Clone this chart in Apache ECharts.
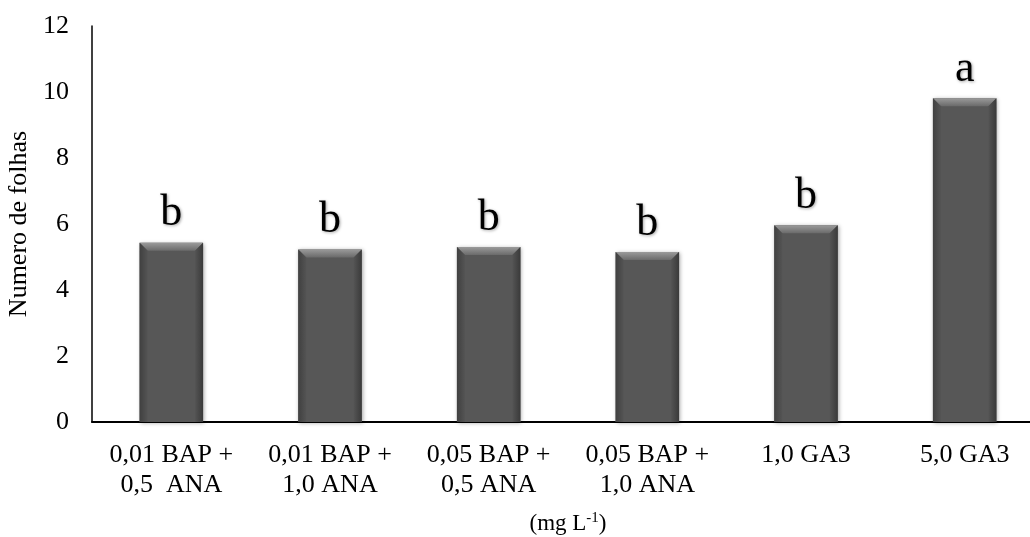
<!DOCTYPE html>
<html>
<head>
<meta charset="utf-8">
<script src="https://cdn.jsdelivr.net/npm/echarts@6/dist/echarts.min.js"></script>
<style>
html,body{margin:0;padding:0;background:#fff;}
#chart{width:1030px;height:537px;}
</style>
</head>
<body>
<div id="chart"></div>
<script>
const categories = ['0,01 BAP +\n0,5  ANA', '0,01 BAP +\n1,0 ANA', '0,05 BAP +\n0,5 ANA', '0,05 BAP +\n1,0 ANA', '1,0 GA3', '5,0 GA3'];
const values = [5.43, 5.23, 5.30, 5.15, 5.96, 9.81];
const letters = ['b', 'b', 'b', 'b', 'b', 'a'];
const yTicks = [0, 2, 4, 6, 8, 10, 12];
const yAxisTitle = 'Numero de folhas';
const xAxisTitle = '(mg L{sup|-1})';

const FONT = '"Liberation Serif", "Times New Roman", serif';
const BAR_RATIO = 0.4;
const chart = echarts.init(document.getElementById('chart'), null, {renderer: 'canvas'});

function bevel(params, api) {
  const idx = api.value(0);
  const top = api.coord([idx, api.value(1)]);
  const base = api.coord([idx, 0]);
  const w = api.size([1, 0])[0] * BAR_RATIO;
  const x0 = top[0] - w / 2, x1 = top[0] + w / 2;
  const y0 = top[1], yb = base[1];
  const b = 8;
  return {
    type: 'group',
    children: [
      {type: 'polygon', shape: {points: [[x0, y0], [x1, y0], [x1 - b, y0 + b], [x0 + b, y0 + b]]},
        style: {fill: new echarts.graphic.LinearGradient(0, 0, 0, 1, [
          {offset: 0, color: '#9a9a9a'}, {offset: 1, color: '#6a6a6a'}])}},
      {type: 'polygon', shape: {points: [[x0, y0], [x0 + b, y0 + b], [x0 + b, yb], [x0, yb]]},
        style: {fill: new echarts.graphic.LinearGradient(0, 0, 1, 0, [
          {offset: 0, color: '#404040'}, {offset: 1, color: '#545454'}])}},
      {type: 'polygon', shape: {points: [[x1, y0], [x1 - b, y0 + b], [x1 - b, yb], [x1, yb]]},
        style: {fill: new echarts.graphic.LinearGradient(0, 0, 1, 0, [
          {offset: 0, color: '#545454'}, {offset: 1, color: '#3a3a3a'}])}}
    ]
  };
}

chart.setOption({
  animation: false,
  backgroundColor: '#ffffff',
  grid: {left: 92, top: 26, right: -14, bottom: 115, containLabel: false, outerBoundsMode: 'none'},
  xAxis: {
    type: 'category',
    data: categories,
    name: xAxisTitle,
    nameLocation: 'middle',
    nameGap: 89,
    nameTextStyle: {
      fontFamily: FONT, fontSize: 23, color: '#000', verticalAlign: 'top',
      rich: {sup: {fontFamily: FONT, fontSize: 15, color: '#000', verticalAlign: 'top', padding: [0, 0, 10, 0]}}
    },
    axisLine: {lineStyle: {color: '#000', width: 2}},
    axisTick: {show: false},
    axisLabel: {fontFamily: FONT, fontSize: 26, color: '#000', margin: 18, lineHeight: 30, interval: 0}
  },
  yAxis: {
    type: 'value',
    min: yTicks[0],
    max: yTicks[yTicks.length - 1],
    interval: 2,
    name: yAxisTitle,
    nameLocation: 'middle',
    nameGap: 56,
    nameTextStyle: {fontFamily: FONT, fontSize: 26, color: '#000'},
    axisLine: {show: true, lineStyle: {color: '#000', width: 1.5}},
    axisTick: {show: false},
    splitLine: {show: false},
    axisLabel: {fontFamily: FONT, fontSize: 26, color: '#000', margin: 23}
  },
  series: [{
    type: 'bar',
    data: values,
    barWidth: (BAR_RATIO * 100) + '%',
    z: 2,
    itemStyle: {
      color: '#575757',
      shadowColor: 'rgba(0,0,0,0.35)',
      shadowBlur: 4,
      shadowOffsetX: 1,
      shadowOffsetY: 1
    },
    label: {
      show: true,
      position: 'top',
      distance: 7,
      formatter: p => letters[p.dataIndex],
      fontFamily: FONT,
      fontSize: 44,
      color: '#000',
      textShadowColor: 'rgba(0,0,0,0.35)',
      textShadowBlur: 3,
      textShadowOffsetX: 1,
      textShadowOffsetY: 1
    }
  }, {
    type: 'custom',
    data: values.map((v, i) => [i, v]),
    renderItem: bevel,
    z: 3,
    silent: true,
    encode: {x: 0, y: 1}
  }]
});
</script>
</body>
</html>
